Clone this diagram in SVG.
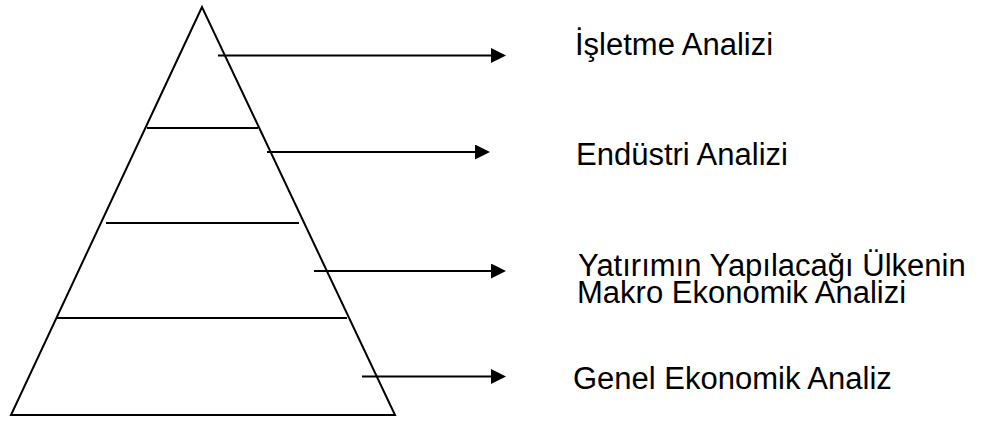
<svg xmlns="http://www.w3.org/2000/svg" width="990" height="421" viewBox="0 0 990 421">
  <style>
    .ln { stroke: #000; stroke-width: 2; fill: none; }
    .lbl { font-family: "Liberation Sans", Arial, sans-serif; font-size: 31px; fill: #000; }
  </style>
  <defs>
    <marker id="ah" markerUnits="userSpaceOnUse" markerWidth="16" markerHeight="16" refX="0" refY="7.5" orient="auto">
      <polygon points="0,0 15,7.5 0,15" fill="#000"/>
    </marker>
  </defs>
  <rect width="990" height="421" fill="#fff"/>
  <g id="pyramid">
    <polygon class="ln" points="202,7 11,415 395,415"/>
    <line class="ln" x1="147" y1="128" x2="258" y2="128"/>
    <line class="ln" x1="106" y1="223" x2="299" y2="223"/>
    <line class="ln" x1="57" y1="318" x2="347" y2="318"/>
  </g>
  <g id="connectors">
    <line class="ln" x1="218" y1="55.5" x2="491" y2="55.5" marker-end="url(#ah)"/>
    <line class="ln" x1="267" y1="152" x2="475" y2="152" marker-end="url(#ah)"/>
    <line class="ln" x1="314" y1="271" x2="491" y2="271" marker-end="url(#ah)"/>
    <line class="ln" x1="362" y1="376.5" x2="491" y2="376.5" marker-end="url(#ah)"/>
  </g>
  <g id="label-isletme">
    <text class="lbl" x="575" y="55">İşletme Analizi</text>
  </g>
  <g id="label-endustri">
    <text class="lbl" x="576" y="165">Endüstri Analizi</text>
  </g>
  <g id="label-makro">
    <text class="lbl" x="578" y="275.5">Yatırımın Yapılacağı Ülkenin</text>
    <text class="lbl" x="577" y="303">Makro Ekonomik Analizi</text>
  </g>
  <g id="label-genel">
    <text class="lbl" x="573" y="388.5">Genel Ekonomik Analiz</text>
  </g>
</svg>
